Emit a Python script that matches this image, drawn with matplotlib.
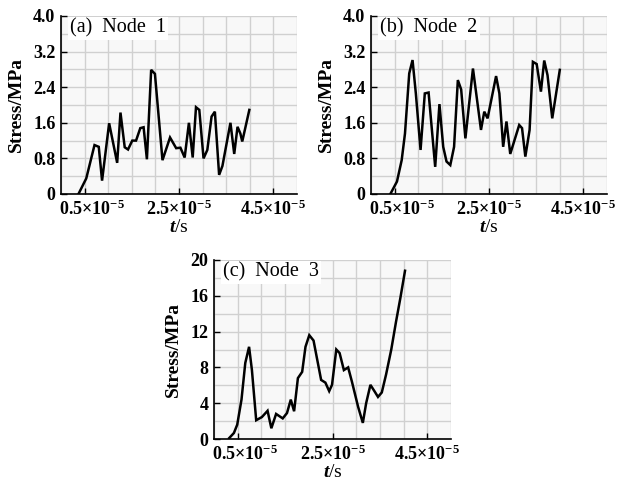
import numpy as np
import matplotlib
matplotlib.use("Agg")
import matplotlib.pyplot as plt
import matplotlib.transforms as mtransforms
from matplotlib.ticker import MultipleLocator

plt.rcParams['font.family'] = ['Liberation Serif', 'DejaVu Serif']
plt.rcParams['mathtext.fontset'] = 'custom'
plt.rcParams['mathtext.rm'] = 'Liberation Serif:bold'
plt.rcParams['mathtext.it'] = 'Liberation Serif:italic:bold'
plt.rcParams['mathtext.bf'] = 'Liberation Serif:bold'

# ---- data (time in units of 1e-5 s, stress in MPa) ----
a_t = [0.37, 0.535, 0.71, 0.80, 0.87, 1.02, 1.19, 1.26, 1.35, 1.42, 1.51, 1.59,
       1.68, 1.75, 1.82, 1.91, 1.99, 2.15, 2.31, 2.44, 2.53, 2.62, 2.71, 2.79,
       2.86, 2.93, 3.02, 3.10, 3.19, 3.26, 3.35, 3.42, 3.59, 3.67, 3.74, 3.80,
       3.84, 3.99]
a_v = [0.0, 0.35, 1.10, 1.06, 0.30, 1.59, 0.70, 1.83, 1.05, 1.00, 1.20, 1.20,
       1.48, 1.50, 0.78, 2.79, 2.70, 0.76, 1.27, 1.03, 1.04, 0.82, 1.60, 0.82,
       1.95, 1.89, 0.80, 0.99, 1.74, 1.85, 0.43, 0.63, 1.60, 0.90, 1.51, 1.36,
       1.18, 1.89]

b_t = [0.41, 0.55, 0.65, 0.72, 0.81, 0.88, 0.95, 1.05, 1.14, 1.22, 1.36, 1.45,
       1.53, 1.60, 1.68, 1.76, 1.84, 1.91, 2.00, 2.16, 2.33, 2.40, 2.47, 2.65,
       2.72, 2.80, 2.87, 2.95, 3.14, 3.20, 3.27, 3.36, 3.43, 3.51, 3.60, 3.67,
       3.74, 3.84, 4.00]
b_v = [0.0, 0.28, 0.76, 1.36, 2.71, 3.01, 2.26, 0.99, 2.26, 2.28, 0.61, 2.02,
       1.06, 0.73, 0.65, 1.06, 2.56, 2.35, 1.25, 2.82, 1.44, 1.85, 1.70, 2.65,
       2.26, 1.06, 1.63, 0.90, 1.55, 1.48, 0.84, 1.44, 2.97, 2.92, 2.30, 3.00,
       2.67, 1.70, 2.79]

c_t = [0.32, 0.42, 0.49, 0.58, 0.66, 0.74, 0.80, 0.89, 1.01, 1.13, 1.21, 1.31,
       1.45, 1.54, 1.62, 1.69, 1.77, 1.86, 1.93, 2.01, 2.10, 2.26, 2.35, 2.43,
       2.49, 2.58, 2.65, 2.74, 2.83, 2.91, 3.04, 3.14, 3.21, 3.30, 3.39, 3.46,
       3.54, 3.63, 3.74, 3.84, 3.93, 4.03]
c_v = [0.1, 0.67, 1.6, 4.4, 8.5, 10.3, 7.7, 2.1, 2.45, 3.15, 1.2, 2.8,
       2.3, 2.9, 4.4, 3.1, 6.8, 7.5, 10.3, 11.6, 11.0, 6.6, 6.3, 5.35,
       6.05, 10.0, 9.6, 7.7, 8.0, 6.4, 3.6, 1.8, 4.0, 6.05, 5.3, 4.7,
       5.2, 7.2, 10.0, 13.1, 15.7, 18.8]

panel_titles = ['(a)  Node  1', '(b)  Node  2', '(c)  Node  3']
x_ticks = [0.5e-5, 2.5e-5, 4.5e-5]
x_ticklabels = [r'$0.5{\times}10^{-5}$', r'$2.5{\times}10^{-5}$', r'$4.5{\times}10^{-5}$']
y_ticks_ab = [0, 0.8, 1.6, 2.4, 3.2, 4.0]
y_ticklabels_ab = ['0', '0.8', '1.6', '2.4', '3.2', '4.0']
y_ticks_c = [0, 4, 8, 12, 16, 20]
y_ticklabels_c = ['0', '4', '8', '12', '16', '20']

W, H = 620, 482
fig = plt.figure(figsize=(W / 100, H / 100), dpi=100)

def px_axes(l, r, t, b):
    return [l / W, (H - b) / H, (r - l) / W, (b - t) / H]

ax_a = fig.add_axes(px_axes(61, 297, 16, 194))
ax_b = fig.add_axes(px_axes(371, 607, 16, 194))
ax_c = fig.add_axes(px_axes(214, 451, 260, 439))

panels = [
    (ax_a, a_t, a_v, y_ticks_ab, y_ticklabels_ab, 4.0, 0.4),
    (ax_b, b_t, b_v, y_ticks_ab, y_ticklabels_ab, 4.0, 0.4),
    (ax_c, c_t, c_v, y_ticks_c, y_ticklabels_c, 20, 2),
]

for i, (ax, tt, vv, yt, ytl, ymax, yminor) in enumerate(panels):
    ax.set_facecolor('#f8f8f8')
    ax.plot(np.array(tt) * 1e-5, vv, color='black', lw=1.8, solid_joinstyle='miter', zorder=3)
    ax.set_xlim(0, 5e-5)
    ax.set_ylim(0, ymax)
    ax.set_xticks(x_ticks, x_ticklabels)
    ax.set_yticks(yt, ytl)
    ax.xaxis.set_minor_locator(MultipleLocator(0.5e-5))
    ax.yaxis.set_minor_locator(MultipleLocator(yminor))
    ax.grid(which='both', color='#d0d0d0', lw=1.0, zorder=0)
    ax.set_axisbelow(True)
    for s in ['top', 'right']:
        ax.spines[s].set_visible(False)
    for s in ['left', 'bottom']:
        ax.spines[s].set_color('black')
        ax.spines[s].set_linewidth(1.2)
    ax.tick_params(which='major', direction='in', length=4, width=1.0,
                   labelsize=13, pad=4, colors='black')
    ax.tick_params(which='minor', length=0)
    for lab in ax.get_yticklabels():
        lab.set_fontweight('bold')
    ax.set_xlabel(r'$t$/s', fontsize=14, labelpad=0)
    ax.set_ylabel('Stress/MPa', fontsize=14, fontweight='bold', labelpad=6)
    ax.text(0.04, 0.985, panel_titles[i], transform=ax.transAxes, fontsize=14.5,
            va='top', ha='left', zorder=5,
            bbox=dict(facecolor='white', edgecolor='none', pad=1.5))
    # first x tick label is shifted slightly right in the original
    lbl = ax.get_xticklabels()[0]
    lbl.set_transform(lbl.get_transform() +
                      mtransforms.ScaledTranslation(7 / 100, 0, fig.dpi_scale_trans))

fig.savefig('out.png', dpi=100)
